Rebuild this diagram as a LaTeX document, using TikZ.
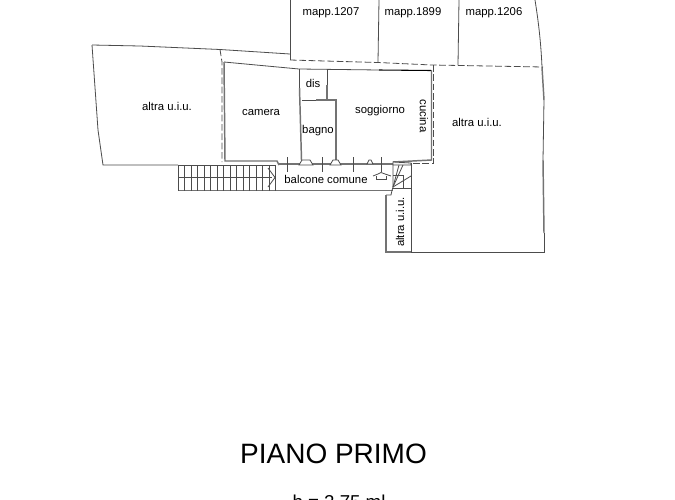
\documentclass[tikz,border=0pt]{standalone}
\usepackage{fontspec}
\setmainfont{Liberation Sans}
\definecolor{ln}{gray}{0.3}
\definecolor{wl}{gray}{0.45}
\tikzset{
 thin line/.style={draw=ln,line width=0.6pt},
 wall/.style={draw=wl,line width=1.1pt},
 bold wall/.style={draw=wl,line width=2pt},
 dash line/.style={draw=ln,line width=0.6pt,dash pattern=on 5pt off 2pt},
 lab/.style={font=\fontsize{8.5}{10}\selectfont,text=black,inner sep=0pt},
}
\begin{document}
\begin{tikzpicture}[x=0.75pt,y=-0.75pt]
\useasboundingbox (0,0) rectangle (675,500);
\clip (0,0) rectangle (675,500);
\fill[white] (0,0) rectangle (675,500);
% neighbouring outlines
\draw[thin line] (92,45) -- (140,46) -- (220,49.5) -- (290,54);
\draw[thin line] (92,45) -- (98,130) -- (103,165) -- (178,165);
\draw[thin line] (290,0) -- (290,60);
\draw[thin line] (379,0) -- (378,62);
\draw[thin line] (459,0) -- (458,65);
\draw[thin line] (535,0) .. controls (539,25) and (541,45) .. (542,67);
\draw[wall] (542,67) -- (544,100);
\draw[thin line] (544,100) -- (543,160);
\draw[wall] (543,160) -- (544,233);
\draw[thin line] (544,233) -- (544,252) -- (411,252);
% dashed boundaries
\draw[dash line] (290,60) -- (378,62.5) -- (432,65) -- (543,67);
\draw[dash line] (220,49.5) -- (222,62) -- (222,162);
\draw[dash line] (433.5,65) -- (433.5,163) -- (411,163);
% flat walls
\draw[wall] (224,62) -- (225,161) -- (277,161) -- (279,165);
\draw[thin line] (224,62) -- (299,69) -- (379,70);
\draw[draw=black,line width=0.8pt] (379,70) -- (431,70.5);
\draw[wall] (431.5,70) -- (431.5,160) -- (393,162);
\draw[bold wall] (279,164) -- (393,164);
% interior
\draw[thin line] (299,69) -- (299,88);
\draw[wall] (299.5,88) -- (301.5,160);
\draw[thin line] (327,69) -- (327,98);
\draw[wall] (327,85) -- (327,100);
\draw[thin line] (302,100) -- (316,100);
\draw[wall] (316,100) -- (336,100) -- (336,160);
\draw[thin line,fill=white] (299,165) -- (302,160) -- (310,160) -- (313,165) -- cycle;
\draw[thin line,fill=white] (330,165) -- (333,160) -- (338,160) -- (341,165) -- cycle;
\draw[thin line,fill=white] (367,164) -- (369,160) -- (371,160) -- (373,164) -- cycle;
% balcony ticks
\foreach \tx in {287,322,353,381}{\draw[thin line] (\tx,157) -- (\tx,172);}
% stairs
\draw[thin line] (178,165) -- (275,165);
\draw[thin line] (178,177.5) -- (272,177.5);
\draw[wall] (178,190.5) -- (393,190.5);
\foreach \tx in {178,184.5,191,197.5,204,210.5,217,223.5,230,236.5,243,249.5,256,262.5,269,275}{\draw[thin line] (\tx,165) -- (\tx,190.5);}
\draw[thin line] (268,168) -- (275,177.5) -- (268,187);
% arrow symbol
\draw[thin line] (373,176) -- (378,174) -- (381,172.5) -- (385,174) -- (391,176);
\draw[thin line] (376,176) -- (376,179) -- (386,179) -- (386,176);
% landing
\draw[thin line,fill=gray!8] (393,162) -- (411,163) -- (411,165) -- (393,165) -- cycle;
\draw[thin line] (393,165) -- (393,187) -- (392,190.5) -- (391,195) -- (386,195);
\draw[thin line] (393,175) -- (403,175) -- (403,188);
\draw[thin line] (393,188) -- (411,188);
\draw[thin line] (393,187) -- (403,165);
\draw[thin line] (393,187) -- (399,165);
\draw[thin line] (393,187) -- (411,176);
\draw[thin line] (411,163) -- (411,252);
\draw[wall] (386,195) -- (386,252);
\draw[bold wall] (385,252) -- (411,252);
% labels
\node[lab] (a1) at (167,106) {altra u.i.u.};
\node[lab] (a2) at (477,122) {altra u.i.u.};
\node[lab,rotate=90] (a3) at (400,222) {altra u.i.u.};
\node[lab] (m1) at (331,13) {mapp.1207};
\node[lab] (m2) at (413,13) {mapp.1899};
\node[lab] (m3) at (494,13) {mapp.1206};
\node[lab] (c) at (261,113) {camera};
\node[lab] (d) at (313,83) {dis};
\node[lab] (b) at (318,131) {bagno};
\node[lab] (s) at (380,111) {soggiorno};
\node[lab,rotate=-90] (cu) at (424,116) {cucina};
\node[lab] (bc) at (326,179) {balcone comune};
\node[inner sep=0pt,font=\fontsize{21}{24}\selectfont] (t) at (333.5,453.5) {PIANO PRIMO};
\node[inner sep=0pt,font=\fontsize{14}{16}\selectfont,anchor=base] (h) at (339,508) {h = 2.75 ml};
\end{tikzpicture}
\end{document}
